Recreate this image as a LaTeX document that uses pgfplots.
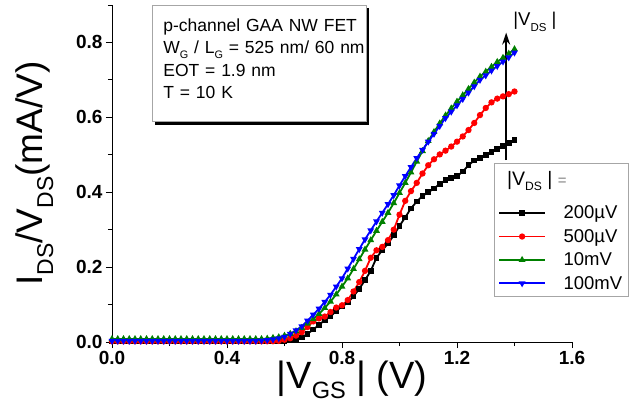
\documentclass[border=0pt]{standalone}
\usepackage{fontspec}
\setmainfont{Liberation Sans}
\usepackage{pgfplots}
\pgfplotsset{compat=1.18}
\usepackage{pgfplotstable}
\usetikzlibrary{shadows,arrows.meta,calc}
\newcommand\sub[1]{\raisebox{-0.28em}{\scalebox{0.62}{#1}}}
\definecolor{cgreen}{RGB}{0,128,0}

\pgfplotstableread{
x     b      r      g      u
0.00  0.001  0.002  0.008  0.003
0.02  0.001  0.002  0.008  0.003
0.04  0.001  0.002  0.008  0.003
0.06  0.001  0.002  0.008  0.003
0.08  0.001  0.002  0.008  0.003
0.10  0.001  0.002  0.008  0.003
0.12  0.001  0.002  0.008  0.003
0.14  0.001  0.002  0.008  0.003
0.16  0.001  0.002  0.008  0.003
0.18  0.001  0.002  0.008  0.003
0.20  0.001  0.002  0.008  0.003
0.22  0.001  0.002  0.008  0.003
0.24  0.001  0.002  0.008  0.003
0.26  0.001  0.002  0.008  0.003
0.28  0.001  0.002  0.008  0.003
0.30  0.001  0.002  0.008  0.003
0.32  0.001  0.002  0.008  0.003
0.34  0.001  0.002  0.008  0.003
0.36  0.001  0.002  0.008  0.003
0.38  0.001  0.002  0.008  0.003
0.40  0.001  0.002  0.008  0.003
0.42  0.001  0.002  0.008  0.003
0.44  0.001  0.002  0.008  0.003
0.46  0.001  0.002  0.008  0.003
0.48  0.001  0.002  0.008  0.003
0.50  0.001  0.002  0.008  0.003
0.52  0.001  0.002  0.008  0.004
0.54  0.001  0.002  0.009  0.005
0.56  0.001  0.002  0.011  0.007
0.58  0.001  0.003  0.013  0.010
0.60  0.002  0.006  0.017  0.014
0.62  0.004  0.010  0.022  0.022
0.64  0.007  0.017  0.029  0.031
0.66  0.012  0.026  0.038  0.042
0.68  0.022  0.040  0.049  0.057
0.70  0.033  0.055  0.061  0.073
0.72  0.046  0.063  0.075  0.089
0.74  0.058  0.068  0.091  0.107
0.76  0.068  0.080  0.108  0.126
0.78  0.083  0.092  0.127  0.148
0.80  0.095  0.098  0.148  0.170
0.82  0.105  0.112  0.170  0.196
0.84  0.122  0.135  0.195  0.222
0.86  0.142  0.160  0.221  0.248
0.88  0.165  0.190  0.247  0.274
0.90  0.190  0.225  0.272  0.298
0.92  0.225  0.245  0.297  0.322
0.94  0.245  0.254  0.321  0.345
0.96  0.263  0.272  0.345  0.368
0.98  0.285  0.300  0.371  0.392
1.00  0.310  0.340  0.398  0.418
1.02  0.333  0.377  0.425  0.443
1.04  0.357  0.403  0.453  0.467
1.06  0.375  0.425  0.482  0.491
1.08  0.390  0.450  0.510  0.513
1.10  0.400  0.472  0.537  0.535
1.12  0.410  0.488  0.561  0.556
1.14  0.422  0.501  0.584  0.577
1.16  0.432  0.511  0.605  0.598
1.18  0.438  0.522  0.624  0.615
1.20  0.443  0.535  0.642  0.632
1.22  0.455  0.549  0.659  0.649
1.24  0.472  0.566  0.676  0.666
1.26  0.485  0.585  0.693  0.683
1.28  0.492  0.606  0.709  0.700
1.30  0.500  0.625  0.722  0.712
1.32  0.507  0.640  0.735  0.725
1.34  0.515  0.650  0.748  0.737
1.36  0.523  0.656  0.759  0.749
1.38  0.532  0.662  0.770  0.760
1.40  0.540  0.669  0.782  0.773
}\datatable

\begin{document}
\begin{tikzpicture}
\begin{axis}[
  name=ax,
  scale only axis, width=460bp, height=337bp,
  xmin=0, xmax=1.6, ymin=0, ymax=0.9,
  axis x line*=bottom, axis y line*=left,
  axis line style={line width=0.8bp},
  xtick={0,0.4,0.8,1.2,1.6}, ytick={0,0.2,0.4,0.6,0.8},
  minor xtick={0.2,0.6,1.0,1.4}, minor ytick={0.1,0.3,0.5,0.7,0.9},
  tick align=outside, major tick length=6bp, minor tick length=4bp,
  tick style={line width=0.8bp, black},
  /pgf/number format/assume math mode=true,
  /pgf/number format/.cd, fixed, fixed zerofill, precision=1, /pgfplots/.cd,
  tick label style={font=\bfseries\fontsize{19bp}{21bp}\selectfont},
  xlabel={|V\sub{GS} | (V)},
  ylabel={I\sub{DS}/V\sub{DS}(mA/V)},
  xlabel style={at={(axis description cs:0.522,-0.055)}, anchor=north, font=\fontsize{38bp}{40bp}\selectfont, inner sep=0pt},
  ylabel style={at={(axis description cs:-0.168,0.5)}, anchor=center, font=\fontsize{37bp}{40bp}\selectfont, inner sep=0pt},
  legend style={at={(rel axis cs:0.830,0.531)}, anchor=north west, draw=gray!70, line width=0.8bp,
    font=\fontsize{18.5bp}{21bp}\selectfont, row sep=5bp, inner xsep=4bp, inner ysep=4bp,
    /tikz/every odd column/.append style={column sep=-5bp}},
  legend cell align=left,
  legend image code/.code={\draw[line width=1.8bp,mark repeat=2,mark phase=2,#1] plot coordinates {(0bp,0bp) (23bp,0bp) (46bp,0bp)};},
  every axis plot/.append style={line width=1.8bp, mark size=2.2bp},
]
\addlegendimage{legend image code/.code={\node[anchor=west,inner sep=0pt] at (7bp,4bp) {\fontsize{19.5bp}{21bp}\selectfont |V\sub{DS} | {\color{gray}\fontsize{15bp}{17bp}\selectfont =}};}}
\addlegendentry{\rule{0pt}{26bp}}
\addplot[black, mark=square*, mark size=1.9bp] table[x=x, y=b] {\datatable};
\addlegendentry{200µV\hspace{8bp}}
\addplot[red, mark=*] table[x=x, y=r] {\datatable};
\addlegendentry{500µV\hspace{8bp}}
\addplot[cgreen, mark=triangle*] table[x=x, y=g] {\datatable};
\addlegendentry{10mV}
\addplot[blue, mark=triangle*, mark options={rotate=180}] table[x=x, y=u] {\datatable};
\addlegendentry{100mV}

\draw[-{Stealth[length=12bp,width=8bp]}, line width=1.4bp] (axis cs:1.371,0.486) -- (axis cs:1.371,0.826);
\node[font=\fontsize{18.5bp}{21bp}\selectfont] at (axis cs:1.471,0.855) {|V\sub{DS} |};
\end{axis}
\node[draw=gray!70, fill=white, line width=0.8bp,
  drop shadow={shadow xshift=3bp, shadow yshift=-3bp, opacity=1, fill=black},
  anchor=north west, align=left, text width=192bp,
  inner xsep=11bp, inner ysep=0bp,
  font=\fontsize{17.5bp}{22.5bp}\selectfont]
  at ($(ax.south west)+(40bp,337bp)$) {\rule{0pt}{26bp}\mbox{p-channel GAA NW FET}\\ \mbox{W\sub{G} / L\sub{G} = 525 nm/ 60 nm}\\ \mbox{EOT = 1.9 nm}\\ \mbox{T = 10 K}\rule[-23bp]{0pt}{0pt}};
\path (ax.south west) ++(-112bp,-73bp) rectangle ++(641bp,415bp);
\end{tikzpicture}
\end{document}
